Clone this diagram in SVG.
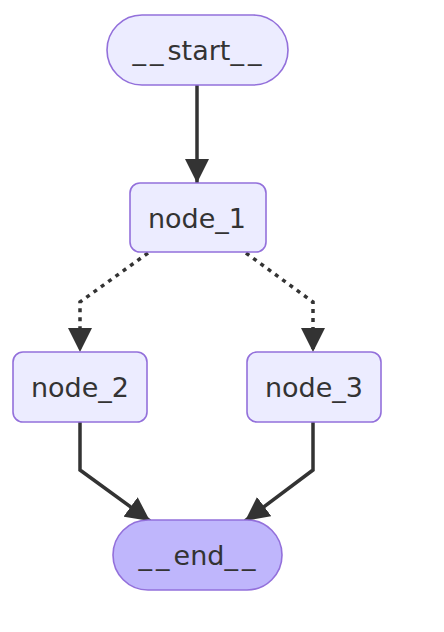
<svg xmlns="http://www.w3.org/2000/svg" width="444" height="632" viewBox="0 0 444 632">
<style>
.node rect{fill:#ECECFF;stroke:#9370DB;stroke-width:1.6}
.node.end rect{fill:#BFB6FC}
.node text{font-family:"DejaVu Sans",sans-serif;font-size:27px;fill:#333;text-anchor:middle;dominant-baseline:central}
.us{letter-spacing:4px}
.edge{fill:none;stroke:#333;stroke-width:3.5}
.dotted{stroke-dasharray:4 5}
</style>
<defs>
<marker id="arrow" viewBox="0 0 10 10" refX="10" refY="5" markerUnits="userSpaceOnUse" markerWidth="24" markerHeight="24" orient="auto">
<path d="M0,0 L10,5 L0,10 z" fill="#333"/>
</marker>
</defs>
<rect width="444" height="632" fill="#fff"/>
<g id="edges">
<path class="edge" d="M197,85 L197,183" marker-end="url(#arrow)"/>
<path class="edge dotted" d="M148,253 L80,302 L80,352" marker-end="url(#arrow)"/>
<path class="edge dotted" d="M246,253 L313,302 L313,352" marker-end="url(#arrow)"/>
<path class="edge" d="M80,422 L80,470 L150,521" marker-end="url(#arrow)"/>
<path class="edge" d="M313,422 L313,470 L245,521" marker-end="url(#arrow)"/>
</g>
<g id="start" class="node"><rect x="107" y="15" width="181" height="70" rx="35"/><text x="199" y="50"><tspan class="us">__</tspan>start<tspan class="us">__</tspan></text></g>
<g id="node_1" class="node"><rect x="130" y="183" width="136" height="69" rx="10"/><text x="197" y="218">node_1</text></g>
<g id="node_2" class="node"><rect x="13" y="352" width="134" height="70" rx="10"/><text x="80" y="387">node_2</text></g>
<g id="node_3" class="node"><rect x="247" y="352" width="134" height="70" rx="10"/><text x="314" y="387">node_3</text></g>
<g id="end" class="node end"><rect x="113" y="520" width="169" height="70" rx="35"/><text x="199" y="555"><tspan class="us">__</tspan>end<tspan class="us">__</tspan></text></g>
</svg>
